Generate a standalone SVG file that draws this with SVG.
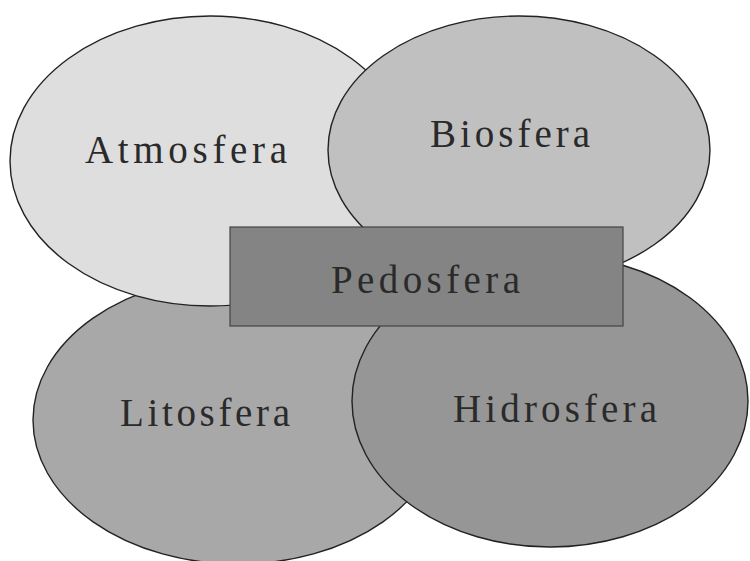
<svg xmlns="http://www.w3.org/2000/svg" width="750" height="561" viewBox="0 0 750 561">
<style>
.n{stroke:#222;stroke-width:1.4}
.t{font-family:"Liberation Serif","Times New Roman",serif;font-size:39px;fill:#2a2a2a}
</style>
<rect width="750" height="561" fill="#fff"/>
<g id="litosfera"><ellipse class="n" cx="238" cy="420" rx="205" ry="144" fill="#a8a8a8"/><text class="t" x="120" y="426" textLength="170" lengthAdjust="spacing">Litosfera</text></g>
<g id="atmosfera"><ellipse class="n" cx="210" cy="161" rx="200" ry="145" fill="#dedede"/><text class="t" x="85" y="163" textLength="202" lengthAdjust="spacing">Atmosfera</text></g>
<g id="hidrosfera"><ellipse class="n" cx="550" cy="401" rx="198" ry="146" fill="#969696"/><text class="t" x="453" y="422" textLength="204" lengthAdjust="spacing">Hidrosfera</text></g>
<g id="biosfera"><ellipse class="n" cx="519" cy="150" rx="191" ry="134" fill="#c0c0c0"/><text class="t" x="430" y="147" textLength="160" lengthAdjust="spacing">Biosfera</text></g>
<g id="pedosfera"><rect x="230" y="227" width="393" height="99" fill="#848484" stroke="#444" stroke-width="1.2"/><text class="t" x="331" y="293" textLength="189" lengthAdjust="spacing">Pedosfera</text></g>
<g id="connectors"/>
</svg>
